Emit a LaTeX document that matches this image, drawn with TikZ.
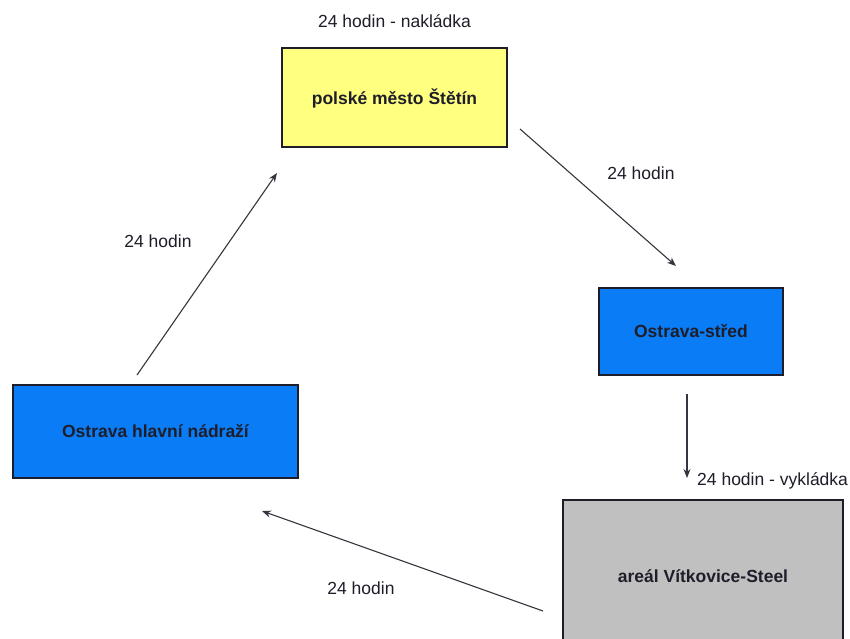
\documentclass[tikz,border=0pt]{standalone}
\usepackage{fontspec}
\setmainfont{Liberation Sans}
\usetikzlibrary{arrows.meta}
\definecolor{boxyellow}{HTML}{FFFF80}
\definecolor{boxblue}{HTML}{0A7CF5}
\definecolor{boxgray}{HTML}{C0C0C0}
\definecolor{ink}{HTML}{1E1E2A}
\begin{document}
\begin{tikzpicture}[x=1pt,y=-1pt,
  box/.style={draw=ink,line width=1.4pt},
  lbl/.style={font=\fontsize{17.5}{20}\selectfont,text=ink,inner sep=0pt},
  boxlbl/.style={lbl,font=\fontsize{17.5}{20}\selectfont\bfseries},
  conn/.style={draw=ink!90,line width=1.1pt,-{Stealth[length=9pt,width=7pt]}}]
\useasboundingbox (0,0) rectangle (850,638);
\fill[white] (0,0) rectangle (850,638);
% boxes
\path[box,fill=boxyellow] (282,48) rectangle (507,147);
\node[boxlbl] (szczecin) at (394.5,98) {polské město Štětín};
\path[box,fill=boxblue] (599,288) rectangle (783,375);
\node[boxlbl] (stred) at (691,331) {Ostrava-střed};
\path[box,fill=boxblue] (13,385) rectangle (298,478);
\node[boxlbl] (hlavni) at (155.5,431) {Ostrava hlavní nádraží};
\path[box,fill=boxgray] (563,500) rectangle (843,660);
\node[boxlbl] (vitkovice) at (703,576) {areál Vítkovice-Steel};
% connector end points
\coordinate (a1s) at (520,129); \coordinate (a1e) at (676,266);
\coordinate (a2s) at (687,394); \coordinate (a2e) at (687,478);
\coordinate (a3s) at (543,611); \coordinate (a3e) at (262,511);
\coordinate (a4s) at (137,375); \coordinate (a4e) at (277,173);
\draw[conn] (a1s) -- (a1e);
\draw[conn] (a2s) -- (a2e);
\draw[conn] (a3s) -- (a3e);
\draw[conn] (a4s) -- (a4e);
% labels
\node[lbl] (l0) at (394.5,21) {24 hodin - nakládka};
\node[lbl] (l1) at (641,173) {24 hodin};
\node[lbl,anchor=west] (l2) at (697,481) {24 hodin - vykládka};
\node[lbl] (l3) at (361,588) {24 hodin};
\node[lbl] (l4) at (158,241) {24 hodin};
\end{tikzpicture}
\end{document}
